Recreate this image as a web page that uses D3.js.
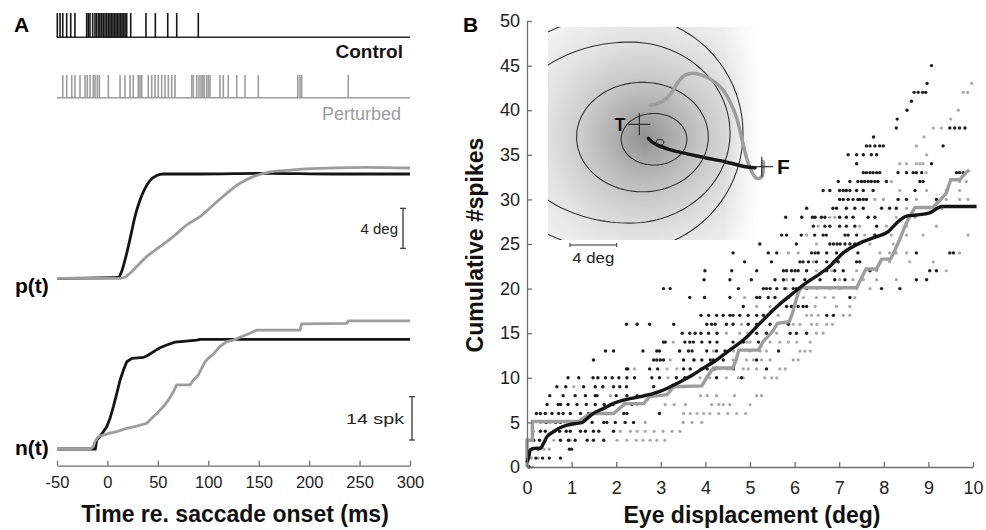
<!DOCTYPE html>
<html><head><meta charset="utf-8">
<script src="https://cdn.jsdelivr.net/npm/d3@7"></script>
<style>body{margin:0;background:#fff}svg{display:block}text{font-family:"Liberation Sans",Arial,Helvetica,sans-serif}</style>
</head><body><svg id="c" width="986" height="530"></svg>
<script>
// ---------- DATA ----------
const timeTicks = [-50,0,50,100,150,200,250,300];
const controlSpikes = [-49.7,-47,-44.3,-40.4,-36.4,-32.2,-20.6,-19,-17.3,-14.6,-12.3,-10.6,-8.7,-7.4,-5.7,-4.1,-2.4,-0.7,0.9,2.5,4,5.5,7,8.5,10,11.5,13,14.5,16,17.5,19.1,23.1,38.2,47.5,59.8,68.7,90.1];
const perturbedSpikes = [-44.3,-40.4,-35.4,-32.2,-27.2,-22.2,-20,-17.3,-14,-12.3,-10,-8,0.9,12.5,17.4,22.4,25.6,30.6,32.3,34,40.5,43.9,47.2,50.4,53.8,57.1,60.4,63.7,67,83.6,85.1,88.5,90.8,92.8,94.5,96,98.4,100,101.7,111.6,114.9,119.8,128.2,136.4,149.6,188.7,190.9,192.6,238.8];
// p(t): [ms, deg]
const pControl = [[-50,0],[10.8,0.1],[14.1,0.67],[17.4,1.83],[20.7,3.17],[24,4.67],[27.3,6.17],[32.3,7.83],[37.3,9.0],[42.2,9.77],[48.9,10.27],[55.4,10.43],[91.8,10.43],[157.9,10.5],[224,10.43],[300,10.43]];
const pPerturbed = [[-50,0],[12.6,0],[17.4,0.1],[22.4,0.5],[29,1.17],[38.9,2.17],[52.1,3.17],[65.3,4.17],[78.6,5.33],[91.8,6.17],[105,7.33],[118.3,8.5],[131.4,9.5],[144.6,10.17],[157.9,10.57],[174.4,10.77],[191,10.9],[224,11.03],[257,11.1],[300,11.03]];
// n(t): [ms, spikes]
const nControl = [[-50,0],[-12,0],[-10.6,2.9],[-7.4,4.0],[-4.1,5.6],[-0.7,7.2],[2.6,9.9],[5.9,13.7],[9.3,18.0],[12.6,22.3],[15.9,25.5],[19.2,28.2],[24.2,29.3],[35.7,29.6],[40.7,30.4],[47.3,31.8],[52.2,32.7],[58.8,33.6],[67,34.5],[75.3,34.8],[88.5,35.2],[91.8,35.4],[300,35.4]];
const nPerturbed = [[-50,0],[-17.3,0],[-14,0.75],[-12.3,2.4],[-9,4.0],[-4.1,4.5],[2.6,5.1],[9.3,5.6],[19.2,6.7],[29,7.4],[39,8.3],[43.9,9.9],[48.9,11.5],[55.5,13.7],[60.4,15.8],[65.4,18.5],[68.7,20.7],[81.9,20.7],[85.2,22.3],[90.1,23.9],[93.5,26.1],[96.8,28.2],[100,29.3],[105,30.7],[111.6,33.1],[118.2,34.7],[124.8,35.2],[131.4,36.1],[141.3,37.4],[147.9,38.4],[191,38.4],[192.6,40.4],[237.2,40.6],[238.8,41.4],[300,41.4]];
const degBar = [3,7];      // 4 deg
const spkBar = [2.9,16.9]; // 14 spk

// Panel B
const dispTicks = [0,1,2,3,4,5,6,7,8,9,10];
const spikeTicks = [0,5,10,15,20,25,30,35,40,45,50];
const meanControl = [[0,0.5],[0.04,1.15],[0.07,1.9],[0.15,2.09],[0.3,2.1],[0.37,2.65],[0.45,3.4],[0.6,3.96],[0.71,4.33],[0.9,4.7],[1.12,4.89],[1.23,4.97],[1.35,5.45],[1.49,6.01],[1.72,6.57],[1.94,7.13],[2.24,7.58],[2.54,7.88],[2.84,8.25],[3.06,8.63],[3.29,9.19],[3.51,9.75],[3.74,10.4],[3.96,11.1],[4.19,11.8],[4.41,12.6],[4.63,13.4],[4.85,14.23],[5.22,16.1],[5.6,17.97],[5.97,19.5],[6.19,20.4],[6.49,21.4],[6.79,22.5],[7.09,24.0],[7.46,25.1],[7.84,25.82],[8.1,26.38],[8.28,27.31],[8.51,28.13],[8.73,28.25],[9.03,28.5],[9.3,29.2],[10.08,29.2]];
const meanPerturbed = [[0,0],[0,3.0],[0.12,3.0],[0.12,5.1],[1.16,5.1],[1.3,5.6],[1.42,6.0],[1.94,6.0],[2.08,6.6],[2.2,7.1],[2.62,7.1],[2.75,7.9],[3.14,8.1],[3.29,9.0],[3.92,9.1],[4.05,10.2],[4.18,11.1],[4.62,11.1],[4.7,12.2],[4.75,13.1],[5.19,13.1],[5.3,14.1],[5.49,15.1],[5.62,16.1],[5.88,16.3],[5.95,17.2],[6.02,18.5],[6.08,19.5],[6.14,20.1],[7.39,20.1],[7.5,21.2],[7.6,22.2],[7.84,22.2],[7.95,23.3],[8.15,23.3],[8.25,24.3],[8.38,25.8],[8.5,27.3],[8.62,28.4],[8.7,29.1],[9.1,29.1],[9.26,29.9],[9.4,30.7],[9.5,32.2],[9.7,32.2],[9.86,33.1],[9.92,33.3]];
const ctrlRows = [
 [0,[0.05]],[1,[0.2,0.35,0.5,0.75]],[2,[0.12,0.25,0.95,1.0]],
 [3,[0.15,0.28,0.41,0.75,0.93,1.08,1.35,1.49,1.72]],
 [4,[0.3,0.41,0.6,0.73,0.88,0.97,1.2,1.31,1.49,1.61,1.94]],
 [5,[0.43,0.64,0.75,0.96,1.46,1.72,1.79,1.98,2.2,2.39]],
 [6,[0.21,0.3,0.41,0.56,0.71,0.81,0.97,1.2,1.38,1.57,1.79,2.17,2.24,2.97]],
 [7,[0.45,0.7,0.75,0.92,1.12,1.33,1.53,1.73,1.93,2.17,2.35]],
 [8,[0.51,0.81,1.08,1.31,1.53,1.57,2.0,2.24,2.47]],
 [9,[0.67,0.87,1.27,1.53,1.7,1.94,2.08,2.23,2.84]],
 [10,[0.92,1.16,1.48,1.59,1.76,1.91,2.06,2.24,2.41,2.8,2.97,3.35,3.54,4.25,4.81]],
 [11,[2.23,2.26,2.75,2.93,3.51,3.66,4.04,4.21,4.63,5.37]],
 [12,[1.49,2.84,2.91,2.99,3.06,3.51,3.74,3.92,4.11,4.18,4.4,5.15]],
 [13,[1.76,1.94,2.6,2.91,2.97,3.42,3.62,3.7,4.03,4.25,4.44,5.64]],
 [14,[3.06,3.1,3.54,3.65,3.73,3.92,4.1,4.26,4.62,4.85,5.19]],
 [15,[3.48,3.65,3.77,3.9,4.07,4.26,5.15,5.37,5.9,6.04,6.27]],
 [16,[2.23,2.47,2.75,3.29,4.03,4.14,4.22,4.47,4.62,4.96,5.15,5.45,5.86]],
 [17,[3.9,4.07,4.25,4.4,4.55,4.62,4.77,4.96,5.15,5.3,6.72,6.87]],
 [18,[4.85,5.82,5.93,6.08,6.19,6.27]],
 [19,[3.65,3.98,4.55,5.15,5.22,5.41,5.56,5.86,7.24]],
 [20,[3.06,3.21,4.74,5.3,5.37,5.45,5.6,5.78,5.97,6.04,6.27,7.95,8.36]],
 [21,[3.97,4.55,5.03,5.56,5.75,5.97,6.23,6.57,6.9,7.13,8.73,8.96]],
 [22,[3.99,4.59,5.15,5.75,5.82,5.93,6.01,6.08,6.27,6.72,6.9,7.09,7.69,9.03,9.18]],
 [23,[4.88,5.48,6.12,6.19,6.31,6.49,6.72,6.87,6.98,7.39,7.46]],
 [24,[4.62,5.41,5.6,6.38,6.46,6.53,6.72,6.94,7.09,7.42,8.73,9.48,9.56]],
 [25,[5.22,6.04,6.79,6.87,6.95,7.02,7.13,7.24,7.35]],
 [26,[5.22,5.71,5.82,6.15,6.45,6.64,6.71,7.13,7.2,7.39,7.8]],
 [27,[6.42,6.68,6.79,7.01,7.16,7.35,7.84]],
 [28,[5.8,6.16,6.4,6.46,6.6,6.68,7.01,7.16,7.31,7.65,7.8]],
 [29,[6.27,6.86,6.94,7.16,7.35,7.54,7.95,8.13,8.28]],
 [30,[7.01,7.09,7.2,7.31,7.42,7.46,7.54,7.61,8.32,8.51,9.18]],
 [31,[6.64,6.79,7.01,7.09,7.16,7.24,7.39,7.54,7.76,8.7]],
 [32,[6.98,7.24,7.42,7.5,7.57,7.65,7.72,7.8,7.87,8.06,8.81,8.88]],
 [33,[7.54,7.61,7.69,7.76,7.84,7.91,8.32,8.51,8.66,8.73,8.85,9.63,9.7,9.78]],
 [34,[7.39,9.07]],[35,[7.2,7.39,7.54,7.72,7.84]],[36,[7.61,7.69,7.8,7.91,7.99,9.33]],
 [37,[7.77]],[38,[8.28,9.48,9.59,9.7,9.82]],[39,[8.3]],[40,[8.52]],[41,[8.62]],
 [42,[8.68,8.77,8.87,8.94]],[43,[8.97]],[45,[9.07]]
];
const pertRows = [
 [0,[0.12]],[1,[0.1,0.25]],[2,[0.38,0.5]],
 [3,[0.6,0.97,2.02,2.24,2.45,2.6,2.76,2.91,3.09]],
 [4,[0.15,2.09,2.32,2.47,2.65,2.85,3.05,3.25,3.43]],
 [5,[0.3,0.52,1.2,2.65,3.5,3.7,3.92]],
 [6,[3.51,3.66,3.81,3.96,4.1,4.3,4.5,4.7,4.9]],
 [7,[2.47,3.1,3.3,3.55,4.14,4.3,4.4,4.55,5.0]],
 [8,[1.87,3.89,4.04,4.25,4.65,5.15,5.26]],
 [9,[1.05,3.29,3.5]],
 [10,[3.16,3.88,4.1,4.47,4.74,4.85,5.33,5.49,5.6]],
 [11,[2.41,3.14,3.36,3.89,4.33,4.48,4.55,4.85,4.96,5.15,5.67,5.79]],
 [12,[3.21,3.76,4.62,4.92,5.08,5.26,5.45,5.97,6.08]],
 [13,[3.43,4.18,4.63,5.0,5.23,5.37,6.12,6.23,6.35]],
 [14,[3.28,4.93,5.0,5.45,5.67,5.86,6.05,6.35]],
 [15,[4.47,4.77,4.95,5.6,6.49,6.64]],
 [16,[4.81,5.97,6.12,6.38,6.5,6.72,6.85]],
 [17,[5.63,5.93,6.27,6.38,6.53,7.09,7.24]],
 [18,[5.15,5.45,6.46,6.94,7.24]],
 [19,[4.88,6.2,6.49,6.68,6.87,7.35]],
 [20,[5.82,6.5,6.79,7.01,7.39,7.69]],
 [21,[5.82,6.34,7.01,7.31,7.54,7.84,8.28]],
 [22,[6.49,6.83,7.39,7.84,9.4]],
 [23,[6.42,6.94,8.13,8.58,9.11]],
 [24,[5.86,6.08,7.91,8.13,8.28,8.51,9.7]],
 [25,[6.49,7.46,7.69,8.21]],
 [26,[6.27,7.57,7.99,8.17,8.51,8.88,9.89]],
 [27,[6.53,7.46,8.06,8.51,9.18]],
 [28,[6.79,6.9,8.28,8.43,8.7]],
 [29,[8.51,9.3]],
 [30,[7.8,7.99,8.73,9.4,9.7,9.89]],
 [31,[8.36,8.96,9.4,9.7]],
 [32,[8.17,9.7,9.85]],
 [33,[8.95]],[34,[8.36,8.51,8.73,8.81,8.88]],[35,[8.96]],[36,[8.73]],[37,[8.9]],
 [38,[9.11,9.29]],[39,[9.5]],[40,[9.67]],[42,[9.78,9.88]],[43,[9.97]]
];
// Inset (deg, origin at target T, y up)
const contours = [
 {cx:1.26,cy:-1.28,rxL:2.81,rxR:2.81,ryT:2.21,ryB:2.21},
 {cx:0.27,cy:-1.09,rxL:5.64,rxR:5.64,ryT:4.69,ryB:4.69},
 {cx:-0.8,cy:-0.75,rxL:10.54,rxR:8.57,ryT:7.8,ryB:7.71},
 {cx:-1.23,cy:-0.75,rxL:12.85,rxR:10.11,ryT:10.11,ryB:10.11}
];
const trajControl = [[0.77,-1.2],[1.06,-1.49],[1.63,-1.83],[2.48,-2.12],[3.92,-2.49],[5.63,-2.86],[7.34,-3.2],[9.06,-3.63],[9.91,-3.72]];
const trajPerturbed = [[0.92,1.65],[1.63,1.8],[2.35,2.23],[2.91,2.94],[3.34,3.65],[3.92,4.22],[4.63,4.37],[5.35,4.22],[6.2,3.8],[7.06,3.08],[7.77,1.94],[8.35,0.51],[8.77,-1.2],[9.2,-2.91],[9.63,-4.06],[10.06,-4.63],[10.49,-4.49],[10.63,-3.77],[10.63,-3.2]];
const targetT = [0,0];
const finalF = [10.49,-3.63];
const smallLoop = [1.77,-1.54];
const insetBar = [-5.94,-1.94];

// ---------- DRAW ----------
const BLK='#151515', GRY='#9d9d9d', AX='#6e6e6e';
const svg = d3.select('#c');
const hyphen = d => String(d).replace('\u2212','-');

// Panel A scales
const tX = d3.scaleLinear().domain([-50,300]).range([57,410]);
const pY = d3.scaleLinear().domain([0,10]).range([278.3,178.3]);
const nY = d3.scaleLinear().domain([0,10]).range([449,418.05]);
const rasterC = {base:37.3, top:13};
const rasterP = {base:97.7, top:75};

svg.append('text').attr('x',14).attr('y',32).attr('font-size',21).attr('font-weight','bold').text('A');

// rasters
svg.append('line').attr('x1',tX(-50)).attr('x2',tX(300)).attr('y1',rasterC.base).attr('y2',rasterC.base).attr('stroke','#2a2a2a').attr('stroke-width',1.5);
svg.selectAll('.sc').data(controlSpikes).enter().append('line')
 .attr('x1',d=>tX(d)).attr('x2',d=>tX(d)).attr('y1',rasterC.base).attr('y2',rasterC.top)
 .attr('stroke',BLK).attr('stroke-width',1.6);
svg.append('text').attr('x',403).attr('y',58).attr('text-anchor','end').attr('font-size',19).attr('font-weight','bold').attr('fill',BLK).text('Control');

svg.append('line').attr('x1',tX(-50)).attr('x2',tX(300)).attr('y1',rasterP.base).attr('y2',rasterP.base).attr('stroke',GRY).attr('stroke-width',1.5);
svg.selectAll('.sp').data(perturbedSpikes).enter().append('line')
 .attr('x1',d=>tX(d)).attr('x2',d=>tX(d)).attr('y1',rasterP.base).attr('y2',rasterP.top)
 .attr('stroke',GRY).attr('stroke-width',1.6);
svg.append('text').attr('x',401).attr('y',120).attr('text-anchor','end').attr('font-size',18).attr('fill',GRY).text('Perturbed');

// p(t)
const lp = d3.line().x(d=>tX(d[0])).y(d=>pY(d[1])).curve(d3.curveMonotoneX);
svg.append('path').attr('d',lp(pControl)).attr('fill','none').attr('stroke',BLK).attr('stroke-width',2.8);
svg.append('path').attr('d',lp(pPerturbed)).attr('fill','none').attr('stroke',GRY).attr('stroke-width',2.8);
svg.append('text').attr('x',15).attr('y',293).attr('font-size',21).attr('font-weight','bold').text('p(t)');
// 4 deg bar
const bxp = 403;
svg.append('line').attr('x1',bxp).attr('x2',bxp).attr('y1',pY(degBar[0])).attr('y2',pY(degBar[1])).attr('stroke','#333').attr('stroke-width',1.3);
degBar.forEach(v=>svg.append('line').attr('x1',bxp-3).attr('x2',bxp+3).attr('y1',pY(v)).attr('y2',pY(v)).attr('stroke','#333').attr('stroke-width',1.2));
svg.append('text').attr('x',398).attr('y',234).attr('text-anchor','end').attr('font-size',15).attr('fill','#222').text('4 deg');

// n(t)
const ln = d3.line().x(d=>tX(d[0])).y(d=>nY(d[1]));
svg.append('path').attr('d',ln(nControl)).attr('fill','none').attr('stroke',BLK).attr('stroke-width',2.8);
svg.append('path').attr('d',ln(nPerturbed)).attr('fill','none').attr('stroke',GRY).attr('stroke-width',2.8);
svg.append('text').attr('x',15).attr('y',455).attr('font-size',21).attr('font-weight','bold').text('n(t)');
const bxn = 412;
svg.append('line').attr('x1',bxn).attr('x2',bxn).attr('y1',nY(spkBar[0])).attr('y2',nY(spkBar[1])).attr('stroke','#333').attr('stroke-width',1.3);
spkBar.forEach(v=>svg.append('line').attr('x1',bxn-3).attr('x2',bxn+3).attr('y1',nY(v)).attr('y2',nY(v)).attr('stroke','#333').attr('stroke-width',1.2));
svg.append('text').attr('x',404).attr('y',424).attr('text-anchor','end').attr('font-size',15).attr('fill','#222')
 .attr('textLength',58).attr('lengthAdjust','spacingAndGlyphs').text('14 spk');

// axis A
const gA = svg.append('g').attr('transform','translate(0,465.7)')
 .call(d3.axisBottom(tX).tickValues(timeTicks).tickSize(-5).tickSizeOuter(0).tickPadding(11).tickFormat(d=>hyphen(d)));
gA.selectAll('path,line').attr('stroke',AX).attr('stroke-width',1.3);
gA.selectAll('text').attr('font-size',16.5).attr('fill','#222').attr('font-family','"Liberation Sans",Arial,sans-serif');
svg.append('text').attr('x',235).attr('y',522).attr('text-anchor','middle').attr('font-size',23).attr('font-weight','bold').attr('fill','#111').text('Time re. saccade onset (ms)');

// ---------- Panel B ----------
const dX = d3.scaleLinear().domain([0,10]).range([527,973]);
const dY = d3.scaleLinear().domain([0,50]).range([467,21]);
svg.append('text').attr('x',463).attr('y',32).attr('font-size',21).attr('font-weight','bold').text('B');

const flat = rows => rows.flatMap(r=>r[1].map(x=>[x,r[0]]));
svg.append('g').selectAll('circle').data(flat(pertRows)).enter().append('circle')
 .attr('cx',d=>dX(d[0])).attr('cy',d=>dY(d[1])).attr('r',1.6).attr('fill','#a8a8a8');
svg.append('g').selectAll('circle').data(flat(ctrlRows)).enter().append('circle')
 .attr('cx',d=>dX(d[0])).attr('cy',d=>dY(d[1])).attr('r',1.7).attr('fill','#1e1e1e');

// inset
const iX = d3.scaleLinear().domain([-7.82,10.51]).range([548,762]);
const iY = d3.scaleLinear().domain([-9.91,8.34]).range([240,27]);
const defs = svg.append('defs');
const rg = defs.append('radialGradient').attr('id','rg').attr('gradientUnits','userSpaceOnUse')
 .attr('cx',iX(0.5)).attr('cy',iY(-1.1)).attr('r',150);
[[0,'#919191'],[0.2,'#afafaf'],[0.4,'#c9c9c9'],[0.65,'#e1e1e1'],[0.85,'#ededed'],[1,'#f6f6f6']]
 .forEach(s=>rg.append('stop').attr('offset',s[0]).attr('stop-color',s[1]));
const lg = defs.append('linearGradient').attr('id','lg').attr('gradientUnits','userSpaceOnUse')
 .attr('x1',iX(7.3)).attr('x2',iX(10.4)).attr('y1',0).attr('y2',0);
lg.append('stop').attr('offset',0).attr('stop-color','#fff').attr('stop-opacity',0);
lg.append('stop').attr('offset',1).attr('stop-color','#fff').attr('stop-opacity',1);
defs.append('clipPath').attr('id','ic').append('rect')
 .attr('x',iX(-7.82)).attr('y',iY(8.34)).attr('width',iX(10.51)-iX(-7.82)).attr('height',iY(-9.91)-iY(8.34));
const gi = svg.append('g').attr('clip-path','url(#ic)');
gi.append('rect').attr('x',iX(-7.82)).attr('y',iY(8.34)).attr('width',iX(10.51)-iX(-7.82)).attr('height',iY(-9.91)-iY(8.34)).attr('fill','url(#rg)');
gi.append('rect').attr('x',iX(-7.82)).attr('y',iY(8.34)).attr('width',iX(10.51)-iX(-7.82)).attr('height',iY(-9.91)-iY(8.34)).attr('fill','url(#lg)');
function egg(c){
  const pts=[];
  for(let i=0;i<160;i++){const a=i/160*2*Math.PI, ca=Math.cos(a), sa=Math.sin(a);
    pts.push([iX(c.cx+(ca>=0?c.rxR:c.rxL)*ca), iY(c.cy+(sa>=0?c.ryT:c.ryB)*sa)]);}
  return d3.line().curve(d3.curveLinearClosed)(pts);
}
gi.selectAll('.ct').data(contours).enter().append('path').attr('d',egg)
 .attr('fill','none').attr('stroke','#333').attr('stroke-width',1.1);
// small loop
svg.append('ellipse').attr('cx',iX(smallLoop[0])).attr('cy',iY(smallLoop[1])).attr('rx',iX(0.34)-iX(0)).attr('ry',iX(0.26)-iX(0))
 .attr('fill','none').attr('stroke','#333').attr('stroke-width',1);
const li = d3.line().x(d=>iX(d[0])).y(d=>iY(d[1])).curve(d3.curveCatmullRom);
svg.append('path').attr('d',li(trajPerturbed)).attr('fill','none').attr('stroke',GRY).attr('stroke-width',3.5).attr('stroke-linecap','round');
svg.append('path').attr('d',li(trajControl)).attr('fill','none').attr('stroke',BLK).attr('stroke-width',3.5).attr('stroke-linecap','round');
function cross(p,hx,hy){
  svg.append('line').attr('x1',iX(p[0]-hx)).attr('x2',iX(p[0]+hx)).attr('y1',iY(p[1])).attr('y2',iY(p[1])).attr('stroke','#222').attr('stroke-width',1.1);
  svg.append('line').attr('x1',iX(p[0])).attr('x2',iX(p[0])).attr('y1',iY(p[1]-hy)).attr('y2',iY(p[1]+hy)).attr('stroke','#222').attr('stroke-width',1.1);
}
cross(targetT,0.94,0.94);
cross(finalF,0.97,0.86);
svg.append('text').attr('x',iX(-1.65)).attr('y',iY(0)).attr('dy','0.36em').attr('text-anchor','middle').attr('font-size',18).attr('font-weight','bold').attr('fill','#111').text('T');
svg.append('text').attr('x',iX(11.8)).attr('y',iY(-3.63)).attr('dy','0.36em').attr('font-size',21).attr('font-weight','bold').attr('fill','#111').text('F');
// inset scale bar
const yb = iY(-10.34);
svg.append('line').attr('x1',iX(insetBar[0])).attr('x2',iX(insetBar[1])).attr('y1',yb).attr('y2',yb).attr('stroke','#333').attr('stroke-width',1.2);
insetBar.forEach(v=>svg.append('line').attr('x1',iX(v)).attr('x2',iX(v)).attr('y1',yb-2).attr('y2',yb+2).attr('stroke','#333').attr('stroke-width',1));
svg.append('text').attr('x',iX((insetBar[0]+insetBar[1])/2)).attr('y',263).attr('text-anchor','middle').attr('font-size',15).attr('fill','#222')
 .attr('textLength',42).attr('lengthAdjust','spacingAndGlyphs').text('4 deg');

// mean lines
const lb = d3.line().x(d=>dX(d[0])).y(d=>dY(d[1]));
svg.append('path').attr('d',lb(meanPerturbed)).attr('fill','none').attr('stroke',GRY).attr('stroke-width',3.4);
svg.append('path').attr('d',lb.curve(d3.curveMonotoneX)(meanControl)).attr('fill','none').attr('stroke',BLK).attr('stroke-width',3.4);

// axes B
const gx = svg.append('g').attr('transform','translate(0,467)')
 .call(d3.axisBottom(dX).tickValues(dispTicks).tickSize(-5).tickSizeOuter(0).tickPadding(14).tickFormat(d3.format('d')));
const gy = svg.append('g').attr('transform','translate(527,0)')
 .call(d3.axisLeft(dY).tickValues(spikeTicks).tickSize(-5).tickSizeOuter(0).tickPadding(7).tickFormat(d3.format('d')));
[gx,gy].forEach(g=>{g.selectAll('path,line').attr('stroke',AX).attr('stroke-width',1.3);
  g.selectAll('text').attr('font-size',18).attr('fill','#222').attr('font-family','"DejaVu Sans",sans-serif');});
svg.append('text').attr('x',752).attr('y',523).attr('text-anchor','middle').attr('font-size',23).attr('font-weight','bold').attr('fill','#111').text('Eye displacement (deg)');
svg.append('text').attr('transform','translate(483,245) rotate(-90)').attr('text-anchor','middle').attr('font-size',23).attr('font-weight','bold').attr('fill','#111').text('Cumulative #spikes');
</script></body></html>
